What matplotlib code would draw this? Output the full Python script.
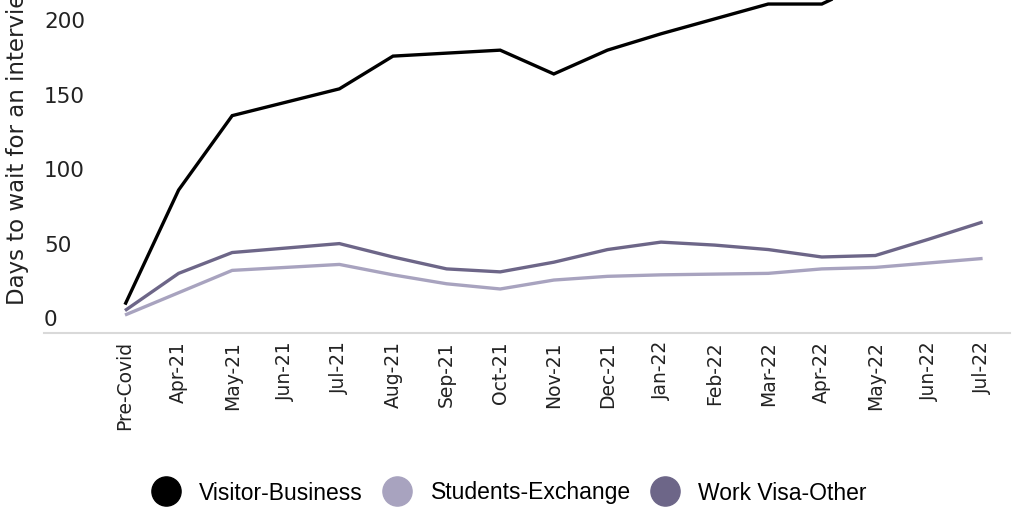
import matplotlib
matplotlib.use("Agg")
import matplotlib.pyplot as plt
from matplotlib.lines import Line2D

# categories and series (days to wait for an interview)
months = ["Pre-Covid", "Apr-21", "May-21", "Jun-21", "Jul-21", "Aug-21", "Sep-21",
          "Oct-21", "Nov-21", "Dec-21", "Jan-22", "Feb-22", "Mar-22", "Apr-22",
          "May-22", "Jun-22", "Jul-22"]
visitor_business = [9, 86, 136, 145, 154, 176, 178, 180, 164, 180, 191, 201, 211, 211,
                    228, 242, 255]
students_exchange = [2, 17, 32, 34, 36, 29, 23, 19.5, 25.5, 28, 29, 29.5, 30, 33, 34,
                     37, 40]
work_visa_other = [5, 30, 44, 47, 50, 41, 33, 31, 37.5, 46, 51, 49, 46, 41, 42, 53, 64.5]

series_names = ["Visitor-Business", "Students-Exchange", "Work Visa-Other"]
colors = ["#000000", "#A8A3BF", "#6D6688"]

W, H = 1024, 512
fig = plt.figure(figsize=(W / 100, H / 100), dpi=100)

# axes placed in pixel terms; the top runs past the figure edge (cropped like the source)
px_per_unit = 74.4 / 50
y0_px = 318
ymin, ymax = -10, 240
bottom_px = y0_px - ymin * px_per_unit
top_px = y0_px - ymax * px_per_unit
left_px, right_px = 44, 1010
ax = fig.add_axes([left_px / W, 1 - bottom_px / H, (right_px - left_px) / W,
                   (bottom_px - top_px) / H])

x = list(range(len(months)))
for vals, c in zip([visitor_business, students_exchange, work_visa_other], colors):
    ax.plot(x, vals, color=c, lw=2.4, solid_capstyle="butt", solid_joinstyle="miter")

step = 53.6
xmin = -(125 - left_px) / step
xmax = xmin + (right_px - left_px) / step
ax.set_xlim(xmin, xmax)
ax.set_ylim(ymin, ymax)

for s in ["top", "right", "left"]:
    ax.spines[s].set_visible(False)
ax.spines["bottom"].set_color("#d9d9d9")
ax.spines["bottom"].set_linewidth(1.5)

ax.set_yticks([0, 50, 100, 150, 200])
ax.tick_params(axis="y", length=0, pad=0, labelsize=15.5, labelcolor="#222222")
for lab in ax.get_yticklabels():
    lab.set_horizontalalignment("left")

ax.set_xticks(x)
ax.set_xticklabels(months, rotation=90, fontsize=13.5, color="#222222")
ax.tick_params(axis="x", length=0, pad=6)

# y label is cut at the top edge, as in the source image
fig.text(18 / W, 1 - 305 / H, "Days to wait for an interview", rotation=90,
         ha="center", va="bottom", fontsize=16.5, color="#222222")

handles = [Line2D([], [], marker="o", ls="none", markersize=21, color=c) for c in colors]
fig.legend(handles, series_names, loc="center", bbox_to_anchor=(505 / W, 1 - 493 / H),
           ncol=3, frameon=False, handletextpad=0.45, columnspacing=0.5,
           prop={"family": ["Liberation Sans", "DejaVu Sans"], "size": 16.5})

fig.savefig("out.png", dpi=100)
